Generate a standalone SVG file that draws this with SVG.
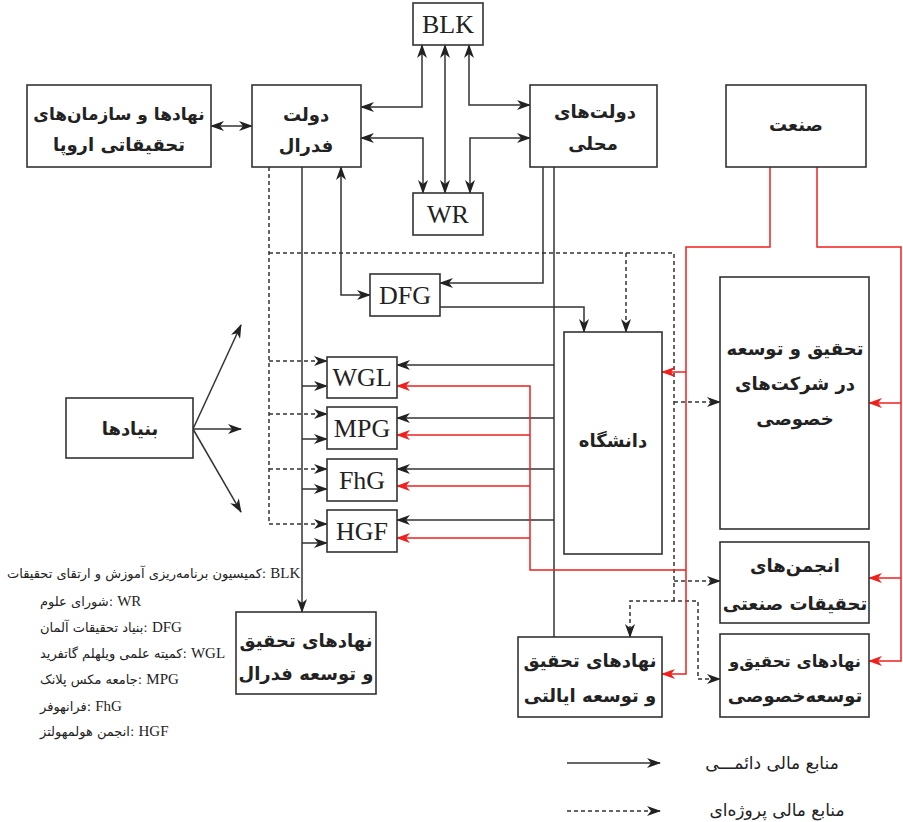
<svg xmlns="http://www.w3.org/2000/svg" width="903" height="822" viewBox="0 0 903 822">
<style>
.box{fill:#fff;stroke:#333;stroke-width:1.6}
.fa{font-family:"DejaVu Sans","Noto Sans",sans-serif;font-weight:bold;font-size:18px;fill:#222;text-anchor:middle}
.en{font-family:"Liberation Serif","Times New Roman",serif;font-size:26px;fill:#222;text-anchor:middle}
.ln{fill:none;stroke:#333;stroke-width:1.5}
.ds{stroke-dasharray:4 3}
.rd{fill:none;stroke:#f0201e;stroke-width:1.5}
.lg{font-family:"DejaVu Sans","Noto Sans",sans-serif;font-size:13px;fill:#222}
.lc{font-family:"Liberation Serif","Times New Roman",serif;font-size:15px}
.lb{font-family:"DejaVu Sans","Noto Sans",sans-serif;font-size:17px;fill:#222;text-anchor:middle}
</style>
<defs>
<marker id="ah" viewBox="0 0 14 10" refX="13" refY="5" markerWidth="14" markerHeight="10" markerUnits="userSpaceOnUse" orient="auto-start-reverse"><path d="M0,0 L14,5 L0,10 L4,5 z" fill="#222"/></marker>
<marker id="ar" viewBox="0 0 14 10" refX="13" refY="5" markerWidth="14" markerHeight="10" markerUnits="userSpaceOnUse" orient="auto-start-reverse"><path d="M0,0 L14,5 L0,10 L4,5 z" fill="#f0201e"/></marker>
</defs>

<g id="connectors">
  <path class="ln" d="M211,126 H252" marker-start="url(#ah)" marker-end="url(#ah)"/>
  <path class="ln" d="M361,107 H422 V45" marker-start="url(#ah)" marker-end="url(#ah)"/>
  <path class="ln" d="M361,138 H423 V193" marker-start="url(#ah)" marker-end="url(#ah)"/>
  <path class="ln" d="M445,45 V193" marker-start="url(#ah)" marker-end="url(#ah)"/>
  <path class="ln" d="M469,45 V105 H530" marker-start="url(#ah)" marker-end="url(#ah)"/>
  <path class="ln" d="M530,138 H470 V193" marker-start="url(#ah)" marker-end="url(#ah)"/>
  <path class="ln" d="M341,167 V295 H370" marker-start="url(#ah)" marker-end="url(#ah)"/>
  <path class="ln" d="M543,167 V283 H440" marker-end="url(#ah)"/>
  <path class="ln" d="M440,307 H584 V332" marker-end="url(#ah)"/>
  <path class="ln" d="M554,167 V637"/>
  <path class="ln" d="M554,365 H397" marker-end="url(#ah)"/>
  <path class="ln" d="M554,418 H397" marker-end="url(#ah)"/>
  <path class="ln" d="M554,469 H397" marker-end="url(#ah)"/>
  <path class="ln" d="M554,520 H397" marker-end="url(#ah)"/>
  <path class="ln" d="M302,167 V612" marker-end="url(#ah)"/>
  <path class="ln" d="M302,386 H327" marker-end="url(#ah)"/>
  <path class="ln" d="M302,439 H327" marker-end="url(#ah)"/>
  <path class="ln" d="M302,489 H327" marker-end="url(#ah)"/>
  <path class="ln" d="M302,543 H327" marker-end="url(#ah)"/>
  <path class="ln" d="M193,429 L241,325" marker-end="url(#ah)"/>
  <path class="ln" d="M193,429 H241" marker-end="url(#ah)"/>
  <path class="ln" d="M193,429 L241,512" marker-end="url(#ah)"/>
  <path class="ln ds" d="M269,167 V524"/>
  <path class="ln ds" d="M269,361 H327" marker-end="url(#ah)"/>
  <path class="ln ds" d="M269,414 H327" marker-end="url(#ah)"/>
  <path class="ln ds" d="M269,469 H327" marker-end="url(#ah)"/>
  <path class="ln ds" d="M269,524 H327" marker-end="url(#ah)"/>
  <path class="ln ds" d="M269,253 H674 V601"/>
  <path class="ln ds" d="M626,253 V332" marker-end="url(#ah)"/>
  <path class="ln ds" d="M674,402 H720" marker-end="url(#ah)"/>
  <path class="ln ds" d="M674,581 H720" marker-end="url(#ah)"/>
  <path class="ln ds" d="M630,637 V601 H698 V679 H720" marker-start="url(#ah)" marker-end="url(#ah)"/>
  <path class="rd" d="M770,167 V247 H686 V674 H662" marker-end="url(#ar)"/>
  <path class="rd" d="M686,372 H662" marker-end="url(#ar)"/>
  <path class="rd" d="M686,570 H530 V386 H397" marker-end="url(#ar)"/>
  <path class="rd" d="M530,435 H397" marker-end="url(#ar)"/>
  <path class="rd" d="M530,486 H397" marker-end="url(#ar)"/>
  <path class="rd" d="M530,538 H397" marker-end="url(#ar)"/>
  <path class="rd" d="M817,167 V247 H901 V661 H869" marker-end="url(#ar)"/>
  <path class="rd" d="M901,403 H869" marker-end="url(#ar)"/>
  <path class="rd" d="M901,578 H869" marker-end="url(#ar)"/>
  <path class="ln" d="M567,763 H660" marker-end="url(#ah)"/>
  <path class="ln ds" d="M567,811 H660" marker-end="url(#ah)"/>
</g>

<g id="europe"><rect class="box" x="27" y="85" width="184" height="82"/>
<text class="fa" x="119" y="120" style="font-size:17px">نهادها و سازمان‌های</text><text class="fa" x="119" y="151">تحقیقاتی اروپا</text></g>
<g id="federal"><rect class="box" x="252" y="85" width="109" height="82"/>
<text class="fa" x="306" y="121">دولت</text><text class="fa" x="306" y="152">فدرال</text></g>
<g id="blk"><rect class="box" x="413" y="3" width="70" height="42"/><text class="en" x="448" y="33">BLK</text></g>
<g id="wr"><rect class="box" x="413" y="193" width="70" height="42"/><text class="en" x="448" y="223">WR</text></g>
<g id="local"><rect class="box" x="530" y="85" width="127" height="82"/>
<text class="fa" x="595" y="118">دولت‌های</text><text class="fa" x="593" y="150">محلی</text></g>
<g id="industry"><rect class="box" x="726" y="85" width="140" height="82"/><text class="fa" x="796" y="131">صنعت</text></g>
<g id="dfg"><rect class="box" x="370" y="274" width="70" height="42"/><text class="en" x="405" y="304">DFG</text></g>
<g id="wgl"><rect class="box" x="327" y="357" width="70" height="41"/><text class="en" x="362" y="386">WGL</text></g>
<g id="mpg"><rect class="box" x="327" y="407" width="70" height="42"/><text class="en" x="362" y="437">MPG</text></g>
<g id="fhg"><rect class="box" x="327" y="459" width="70" height="42"/><text class="en" x="362" y="489">FhG</text></g>
<g id="hgf"><rect class="box" x="327" y="510" width="70" height="42"/><text class="en" x="362" y="540">HGF</text></g>
<g id="university"><rect class="box" x="564" y="332" width="98" height="222"/><text class="fa" x="613" y="447">دانشگاه</text></g>
<g id="foundations"><rect class="box" x="66" y="398" width="127" height="60"/><text class="fa" x="130" y="435">بنیادها</text></g>
<g id="rd-companies"><rect class="box" x="720" y="277" width="149" height="252"/>
<text class="fa" x="795" y="355">تحقیق و توسعه</text><text class="fa" x="795" y="390">در شرکت‌های</text><text class="fa" x="795" y="425">خصوصی</text></g>
<g id="industry-assoc"><rect class="box" x="720" y="542" width="149" height="81"/>
<text class="fa" x="795" y="572">انجمن‌های</text><text class="fa" x="795" y="610">تحقیقات صنعتی</text></g>
<g id="private-rd"><rect class="box" x="720" y="634" width="149" height="83"/>
<text class="fa" x="795" y="667" style="font-size:16.5px">نهادهای تحقیق‌و</text><text class="fa" x="795" y="702">توسعه‌خصوصی</text></g>
<g id="state-rd"><rect class="box" x="518" y="637" width="144" height="80"/>
<text class="fa" x="590" y="667">نهادهای تحقیق</text><text class="fa" x="590" y="702">و توسعه ایالتی</text></g>
<g id="federal-rd"><rect class="box" x="236" y="612" width="140" height="82"/>
<text class="fa" x="306" y="647">نهادهای تحقیق</text><text class="fa" x="306" y="680">و توسعه فدرال</text></g>

<g id="abbrev-legend">
<text class="lg" x="7" y="578">کمیسیون برنامه‌ریزی آموزش و ارتقای تحقیقات: <tspan class="lc">BLK</tspan></text>
<text class="lg" x="40" y="606">شورای علوم: <tspan class="lc">WR</tspan></text>
<text class="lg" x="40" y="632">بنیاد تحقیقات آلمان: <tspan class="lc">DFG</tspan></text>
<text class="lg" x="40" y="658">کمیته علمی ویلهلم گاتفرید: <tspan class="lc">WGL</tspan></text>
<text class="lg" x="40" y="684">جامعه مکس پلانک: <tspan class="lc">MPG</tspan></text>
<text class="lg" x="40" y="711">فرانهوفر: <tspan class="lc">FhG</tspan></text>
<text class="lg" x="40" y="736">انجمن هولمهولتز: <tspan class="lc">HGF</tspan></text>
</g>
<g id="line-legend">
<text class="lb" x="772" y="769">منابع مالی دائمـــی</text>
<text class="lb" x="777" y="816">منابع مالی پروژه‌ای</text>
</g>
</svg>
